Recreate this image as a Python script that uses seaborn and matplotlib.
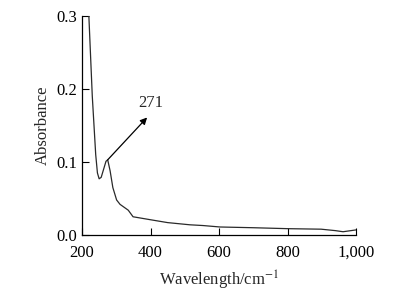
import numpy as np
import pandas as pd
import matplotlib
matplotlib.use('Agg')
import matplotlib.pyplot as plt
import seaborn as sns

# 스펙트럼 값
wavelength = [220, 230, 240, 245, 250, 256, 263, 270, 275, 282, 290, 301, 311, 335,
              349, 399, 450, 515, 553, 603, 700, 801, 898, 940, 962, 1000]
absorbance = [0.300, 0.190, 0.110, 0.085, 0.077, 0.079, 0.090, 0.101, 0.103, 0.088,
              0.065, 0.048, 0.042, 0.034, 0.025, 0.021, 0.017, 0.014, 0.013, 0.011,
              0.010, 0.0087, 0.008, 0.006, 0.0045, 0.007]

peak_x, peak_y = 275, 0.103
arrow_x, arrow_y = 390, 0.161
peak_label = '271'

x_ticks = [200, 400, 600, 800, 1000]
x_tick_labels = ['200', '400', '600', '800', '1,000']
y_ticks = [0.0, 0.1, 0.2, 0.3]
y_tick_labels = ['0.0', '0.1', '0.2', '0.3']

sns.set_style('ticks')
plt.rcParams['font.family'] = ['Liberation Serif', 'DejaVu Serif']
plt.rcParams['mathtext.fontset'] = 'stix'

df = pd.DataFrame({'wavelength': wavelength, 'absorbance': absorbance})

fig = plt.figure(figsize=(4.06, 2.96), dpi=100)
ax = fig.add_axes([0.202, 0.206, 0.675, 0.740])

sns.lineplot(data=df, x='wavelength', y='absorbance', ax=ax,
             color='#2a2a2a', linewidth=0.9)

# 271 피크 화살표
ax.annotate('', xy=(arrow_x, arrow_y), xytext=(peak_x, peak_y),
            arrowprops=dict(arrowstyle='-|>', color='black', lw=0.9,
                            mutation_scale=10, shrinkA=0, shrinkB=0))
ax.text(401, 0.181, peak_label, fontsize=12, ha='center', va='center')

ax.set_xlim(200, 1000)
ax.set_ylim(0, 0.3)
ax.set_xticks(x_ticks)
ax.set_xticklabels(x_tick_labels)
ax.set_yticks(y_ticks)
ax.set_yticklabels(y_tick_labels)
ax.tick_params(direction='in', length=5, width=0.8, labelsize=12, colors='black')
ax.tick_params(axis='x', pad=7)
ax.set_xlabel('Wavelength/cm$^{-1}$', fontsize=12, labelpad=6)
ax.set_ylabel('Absorbance', fontsize=12)
sns.despine(ax=ax)
for s in ['left', 'bottom']:
    ax.spines[s].set_linewidth(0.9)
    ax.spines[s].set_color('black')

fig.savefig('out.png', dpi=100)
